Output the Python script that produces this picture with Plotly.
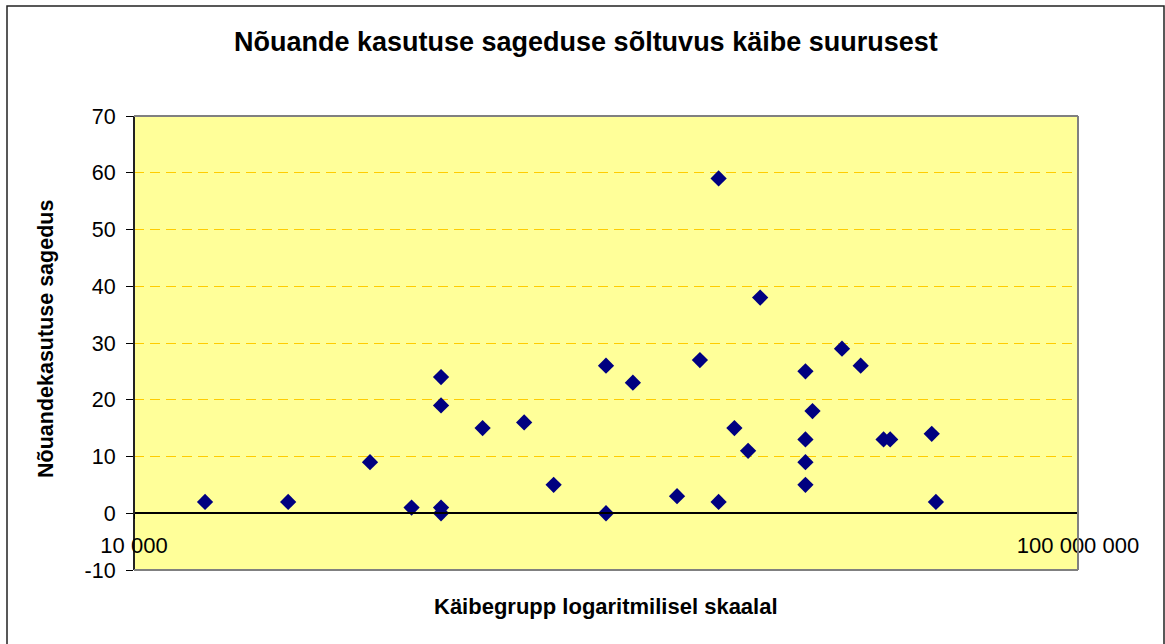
import plotly.graph_objects as go

# Turnover group (log scale) and advice usage frequency per respondent group
kaive = [20000, 45000, 100000, 150000,
         200000, 200000, 200000, 200000,
         300000, 450000, 600000,
         1000000, 1000000, 1300000, 2000000, 2500000,
         3000000, 3000000, 3500000, 4000000, 4500000,
         7000000, 7000000, 7000000, 7000000, 7500000,
         10000000, 12000000, 15000000, 16000000, 24000000, 25000000]
sagedus = [2, 2, 9, 1,
           24, 19, 1, 0,
           15, 16, 5,
           26, 0, 23, 3, 27,
           59, 2, 15, 11, 38,
           25, 13, 9, 5, 18,
           29, 26, 13, 13, 14, 2]

y_ticks = [-10, 0, 10, 20, 30, 40, 50, 60, 70]
y_ticktext = ["-10", "0", "10", "20", "30", "40", "50", "60", "70"]
x_tickvals = [10000, 100000000]
x_ticktext = ["10 000", "100 000 000"]

W, H = 1165, 644
left, right, top, bottom = 134, 1078, 116, 570
y_min, y_max = -10, 70

def px_x(p):
    return p / W

def px_y(p):
    return 1 - p / H

dom_x = [px_x(left), px_x(right)]
dom_y = [px_y(bottom), px_y(top)]
zero_pos = dom_y[0] + (0 - y_min) / (y_max - y_min) * (dom_y[1] - dom_y[0])

FONT = "Liberation Sans, Arial, sans-serif"

fig = go.Figure(
    go.Scatter(
        x=kaive, y=sagedus, mode="markers",
        marker=dict(symbol="diamond", size=12.5, color="#000080",
                    line=dict(width=0)),
        cliponaxis=False, showlegend=False,
    )
)

fig.update_layout(
    width=W, height=H, autosize=False,
    margin=dict(l=0, r=0, t=0, b=0, pad=0, autoexpand=False),
    paper_bgcolor="white",
    plot_bgcolor="#FFFF99",
    font=dict(family=FONT, color="black"),
    xaxis=dict(
        type="log", range=[4, 8], domain=dom_x,
        anchor="free", position=zero_pos, automargin=False,
        showgrid=False, zeroline=False,
        showline=True, linecolor="black", linewidth=1.5,
        ticks="outside", ticklen=5, tickcolor="black",
        tickvals=x_tickvals, ticktext=x_ticktext,
        tickfont=dict(size=22, family=FONT),
        ticklabelstandoff=8,
    ),
    yaxis=dict(
        range=[y_min, y_max], domain=dom_y,
        anchor="free", position=dom_x[0], automargin=False,
        tickvals=y_ticks, ticktext=y_ticktext, zeroline=False,
        showgrid=True, gridcolor="#FFCC00", gridwidth=1.2,
        griddash="10px,6px",
        showline=True, linecolor="#222222", linewidth=2,
        ticks="outside", ticklen=7, tickcolor="black",
        tickfont=dict(size=21.5, family=FONT),
        ticklabelstandoff=6,
    ),
    shapes=[
        # plot area border: top, right, bottom
        dict(type="line", xref="paper", yref="paper", layer="above",
             x0=dom_x[0], x1=dom_x[1], y0=dom_y[1], y1=dom_y[1],
             line=dict(color="#808080", width=2)),
        dict(type="line", xref="paper", yref="paper", layer="above",
             x0=dom_x[1], x1=dom_x[1], y0=dom_y[0], y1=dom_y[1],
             line=dict(color="#808080", width=2)),
        dict(type="line", xref="paper", yref="paper", layer="above",
             x0=dom_x[0], x1=dom_x[1], y0=dom_y[0], y1=dom_y[0],
             line=dict(color="#808080", width=2)),
        # outer chart frame
        dict(type="rect", xref="paper", yref="paper", layer="above",
             x0=px_x(7), x1=px_x(1164), y0=-0.02, y1=px_y(6),
             line=dict(color="#222222", width=1.5)),
    ],
    annotations=[
        dict(text="<b>Nõuande kasutuse sageduse sõltuvus käibe suurusest</b>",
             xref="paper", yref="paper", x=px_x(586), y=px_y(42),
             xanchor="center", yanchor="middle", showarrow=False,
             font=dict(size=27, family=FONT)),
        dict(text="<b>Nõuandekasutuse sagedus</b>",
             xref="paper", yref="paper", x=px_x(46), y=px_y(339),
             xanchor="center", yanchor="middle", showarrow=False,
             textangle=-90, font=dict(size=21.5, family=FONT)),
        dict(text="<b>Käibegrupp logaritmilisel skaalal</b>",
             xref="paper", yref="paper", x=px_x(606), y=px_y(606),
             xanchor="center", yanchor="middle", showarrow=False,
             font=dict(size=22, family=FONT)),
    ],
)

fig.write_html("out.html")
